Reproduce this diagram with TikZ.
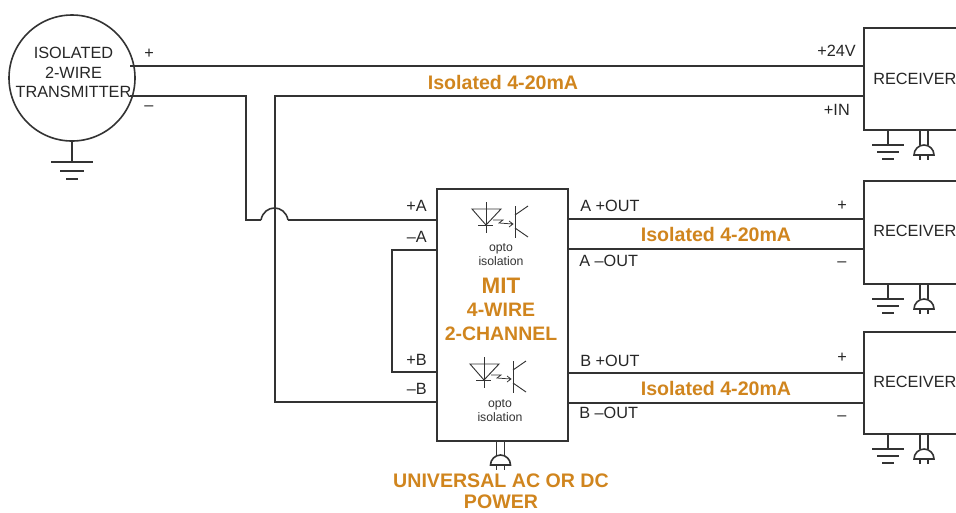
\documentclass[tikz,border=0pt]{standalone}
\usepackage{fontspec}
\setmainfont{Liberation Sans}
\definecolor{wirec}{HTML}{333333}
\definecolor{orangec}{HTML}{D0851E}
\tikzset{
  wire/.style={draw=wirec,line width=1.1pt,line join=miter},
  heavy wire/.style={draw=wirec,line width=1.2pt},
  thin wire/.style={draw=wirec,line width=.7pt},
  lab/.style={inner sep=0pt,font=\fontsize{12.2}{15}\selectfont,text=black!85},
  small/.style={inner sep=0pt,font=\fontsize{9.2}{10.5}\selectfont,align=center,text=black!80},
  hot/.style={inner sep=0pt,font=\bfseries\fontsize{14.7}{15.75}\selectfont,text=orangec,align=center},
  pics/gnd/.style={code={
    \draw[wire] (0,0) -- (0,15);
    \draw[wire] (-16,15) -- (16,15);
    \draw[wire] (-11,22) -- (11,22);
    \draw[wire] (-6,29) -- (6,29);
  }},
  pics/gndbig/.style={code={
    \draw[wire] (0,0) -- (0,21);
    \draw[wire] (-21,21) -- (21,21);
    \draw[wire] (-12,30) -- (12,30);
    \draw[wire] (-6,38) -- (6,38);
  }},
  pics/plug/.style={code={
    \draw[wire] (-4,0) -- (-4,15) (4,0) -- (4,15);
    \draw[heavy wire,fill=white] (-10,25) arc[start angle=180,end angle=360,radius=10] -- cycle;
    \draw[wire] (-4,25) -- (-4,30) (4,25) -- (4,30);
  }},
  pics/opto/.style={code={
    \draw[thin wire] (-14,0) -- (15,0) -- (0,16) -- cycle;
    \draw[thin wire] (0,-7) -- (0,24) (-8,16) -- (7,16);
    \draw[thin wire,line width=.55pt] (7,11) -- (17,11) -- (13,14) -- (27,15) (23,12) -- (27,15) -- (23,18);
    \draw[thin wire] (29,-3) -- (29,29);
    \draw[thin wire] (29,6) -- (42,-3) (29,19) -- (42,28);
  }}
}
\begin{document}
\begin{tikzpicture}[x=0.75pt,y=-0.75pt]
\useasboundingbox (0,0) rectangle (956,512);
\clip (0,0) rectangle (956,512);
\node[circle,heavy wire,draw,minimum size=94.5pt,inner sep=0pt] (tx) at (72,78) {};
\node[lab,align=center,font=\fontsize{12.2}{14.6}\selectfont] (txl) at (73.5,72.5) {ISOLATED\\2-WIRE\\TRANSMITTER};
\pic at (72,141) {gndbig};
% receivers
\coordinate (r1tl) at (864,28); \coordinate (r1bl) at (864,130);
\coordinate (r2tl) at (864,181); \coordinate (r2bl) at (864,284);
\coordinate (r3tl) at (864,332); \coordinate (r3bl) at (864,434);
\coordinate (r1tr) at (960,28); \coordinate (r1br) at (960,130);
\coordinate (r2tr) at (960,181); \coordinate (r2br) at (960,284);
\coordinate (r3tr) at (960,332); \coordinate (r3br) at (960,434);
\draw[wire] (r1tr) -- (r1tl) -- (r1bl) -- (r1br);
\draw[wire] (r2tr) -- (r2tl) -- (r2bl) -- (r2br);
\draw[wire] (r3tr) -- (r3tl) -- (r3bl) -- (r3br);
\node[lab,anchor=west] (rl1) at (873,79) {RECEIVER};
\node[lab,anchor=west] (rl2) at (873,231) {RECEIVER};
\node[lab,anchor=west] (rl3) at (873,382) {RECEIVER};
\pic at (888,130) {gnd}; \pic at (924,130) {plug};
\pic at (888,284) {gnd}; \pic at (924,284) {plug};
\pic at (888,434) {gnd}; \pic at (924,434) {plug};
% MIT
\node[heavy wire,draw,minimum width=98.25pt,minimum height=189pt,inner sep=0pt,anchor=north west] (mit) at (436,188) {};
\pic at (486,209) {opto};
\pic at (484,364) {opto};
\node[small] (o1) at (501,255) {opto\\isolation};
\node[small] (o2) at (500,411) {opto\\isolation};
\node[inner sep=0pt,font=\bfseries\fontsize{16.8}{20}\selectfont,text=orangec] (mt) at (501,286) {MIT};
\node[hot,font=\bfseries\fontsize{14.6}{18}\selectfont] (m4) at (501,322) {4-WIRE\\2-CHANNEL};
\pic at (500.5,440) {plug};
\node[hot] (uni) at (501,491.5) {UNIVERSAL AC OR DC\\POWER};
% wires
\coordinate (tp) at (130,66); \coordinate (tm) at (130,96);
\coordinate (rp) at (864,66); \coordinate (rin) at (864,96);
\coordinate (a1) at (246,96); \coordinate (a2) at (246,220); \coordinate (a3) at (261,220); \coordinate (a4) at (288,220);
\coordinate (pa) at (436,220); \coordinate (ma) at (436,250); \coordinate (pb) at (436,372); \coordinate (mb) at (436,402);
\coordinate (in1) at (275,96); \coordinate (in2) at (275,402);
\coordinate (l1) at (392,250); \coordinate (l2) at (392,372);
\draw[wire] (tp) -- (rp);
\draw[wire] (tm) -- (a1) -- (a2) -- (a3);
\draw[heavy wire] (a3) .. controls (264,204) and (285,204) .. (a4);
\draw[wire] (a4) -- (pa);
\draw[wire] (rin) -- (in1) -- (in2) -- (mb);
\draw[wire] (ma) -- (l1) -- (l2) -- (pb);
\coordinate (oa1) at (567,219); \coordinate (oa2) at (567,249); \coordinate (ob1) at (567,373); \coordinate (ob2) at (567,403);
\coordinate (ra1) at (864,219); \coordinate (ra2) at (864,249); \coordinate (rb1) at (864,373); \coordinate (rb2) at (864,403);
\draw[wire] (oa1) -- (ra1); \draw[wire] (oa2) -- (ra2);
\draw[wire] (ob1) -- (rb1); \draw[wire] (ob2) -- (rb2);
% labels
\node[lab] (lp) at (149,54) {+};
\node[lab] (lm) at (149,108) {–};
\node[lab,anchor=east] (l24) at (856,51) {+24V};
\node[lab,anchor=east] (lin) at (850,110) {+IN};
\node[hot] (i1) at (503,82) {Isolated 4-20mA};
\node[hot] (i2) at (716,234) {Isolated 4-20mA};
\node[hot] (i3) at (716,388) {Isolated 4-20mA};
\node[lab,anchor=east] (t1) at (427,206) {+A};
\node[lab,anchor=east] (t2) at (427,237) {–A};
\node[lab,anchor=east] (t3) at (427,360) {+B};
\node[lab,anchor=east] (t4) at (427,389) {–B};
\node[lab,anchor=west] (t5) at (580,206) {A +OUT};
\node[lab,anchor=west] (t6) at (579,261) {A –OUT};
\node[lab,anchor=west] (t7) at (580,361) {B +OUT};
\node[lab,anchor=west] (t8) at (579,413) {B –OUT};
\node[lab] (p1) at (842,206) {+};
\node[lab] (p2) at (842,264) {–};
\node[lab] (p3) at (842,358) {+};
\node[lab] (p4) at (842,418) {–};
\end{tikzpicture}
\end{document}
